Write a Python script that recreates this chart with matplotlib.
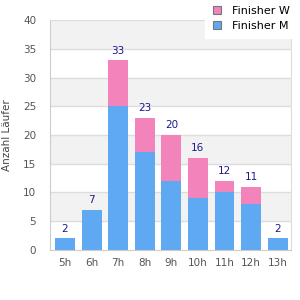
import matplotlib
matplotlib.use("Agg")
import matplotlib.pyplot as plt
import numpy as np

hours = ["5h", "6h", "7h", "8h", "9h", "10h", "11h", "12h", "13h"]
finisher_m = [2, 7, 25, 17, 12, 9, 10, 8, 2]
finisher_w = [0, 0, 8, 6, 8, 7, 2, 3, 0]

pink = "#f283bb"
blue = "#5fa8f2"

fig = plt.figure(figsize=(3, 3), dpi=100)
ax = fig.add_axes([0.167, 0.167, 0.803, 0.766])

x = np.arange(len(hours))
m = np.array(finisher_m)
w = np.array(finisher_w)
total = m + w

# alternating background bands
for i, lo in enumerate(range(0, 40, 5)):
    if i % 2 == 1:
        ax.axhspan(lo, lo + 5, color="#f2f2f2", zorder=0, lw=0)
for yv in range(5, 40, 5):
    ax.axhline(yv, color="#dddddd", lw=1, zorder=1)

ax.bar(x, m, width=0.75, color=blue, zorder=2, label="Finisher M")
ax.bar(x, w, width=0.75, bottom=m, color=pink, zorder=2, label="Finisher W")

for xi, t in zip(x, total):
    ax.text(xi, t + 0.8, str(t), ha="center", va="bottom", fontsize=7.5, color="#1a1a8c")

ax.set_xlim(-0.56, 8.5)
ax.set_ylim(0, 40)
ax.set_xticks(x)
ax.set_xticklabels(hours)
ax.set_yticks(range(0, 41, 5))
ax.tick_params(axis="both", length=0, labelsize=7.5, colors="#555555", pad=6)
ax.tick_params(axis="y", pad=10)
for s in ax.spines.values():
    s.set_color("#dddddd")
ax.spines["bottom"].set_color("#cccccc")
ax.spines["left"].set_color("#cccccc")
ax.set_ylabel("Anzahl Läufer", fontsize=7.5, color="#444444", labelpad=8)

handles, labels = ax.get_legend_handles_labels()
leg = fig.legend(handles[::-1], labels[::-1], loc="upper left", bbox_to_anchor=(0.69, 1.0),
                 frameon=True, fontsize=8, handlelength=0.75, handleheight=0.75,
                 borderaxespad=0, borderpad=0.5, labelspacing=0.45, handletextpad=1.0)
leg.get_frame().set_edgecolor("white")
leg.get_frame().set_alpha(1)
leg.get_frame().set_boxstyle("square", pad=0.15)
for h in leg.legend_handles:
    h.set_edgecolor("#777777")
    h.set_linewidth(0.8)

fig.savefig("out.png", dpi=100)
